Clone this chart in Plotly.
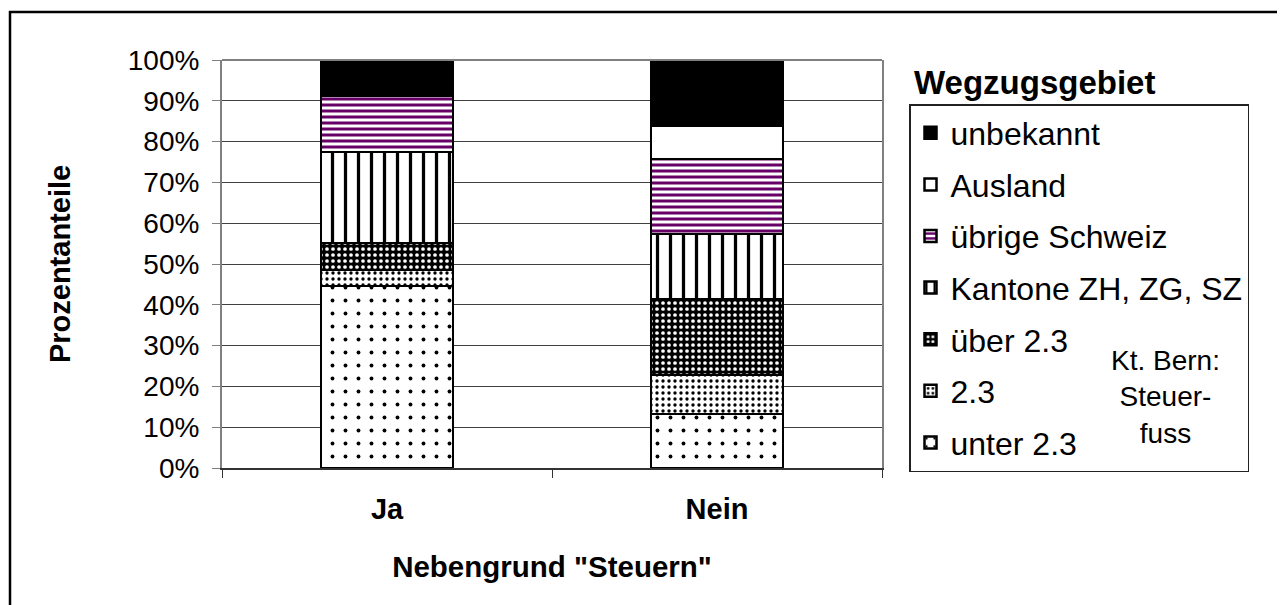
import plotly.graph_objects as go

# =====================================================
# Daten (Prozentanteile, von unten nach oben gestapelt)
# =====================================================

categories = ["Ja", "Nein"]

unter_23 = [44.6, 13.2]
steuerfuss_23 = [3.9, 9.6]
ueber_23 = [6.6, 18.5]
kantone_zh_zg_sz = [22.4, 16.1]
uebrige_schweiz = [13.7, 18.3]
ausland = [0.0, 8.1]
unbekannt = [8.8, 16.2]

series_names = [
    "unter 2.3",
    "2.3",
    "über 2.3",
    "Kantone ZH, ZG, SZ",
    "übrige Schweiz",
    "Ausland",
    "unbekannt",
]

y_ticks = [0, 10, 20, 30, 40, 50, 60, 70, 80, 90, 100]
y_tick_labels = [f"{v}%" for v in y_ticks]

# =====================================================
# Stil
# =====================================================

FONT = "Liberation Sans, Arial, sans-serif"
PURPLE = "#660066"

patterns = [
    dict(shape=".", fgcolor="black", bgcolor="white", size=13, solidity=0.07, fgopacity=1),
    dict(shape=".", fgcolor="black", bgcolor="white", size=6, solidity=0.25, fgopacity=1),
    dict(shape=".", fgcolor="white", bgcolor="black", size=6, solidity=0.3, fgopacity=1),
    dict(shape="|", fgcolor="black", bgcolor="white", size=13, solidity=0.25, fgopacity=1),
    dict(shape="-", fgcolor=PURPLE, bgcolor="white", size=6, solidity=0.5, fgopacity=1),
    dict(shape="", fgcolor="white", bgcolor="white"),
    dict(shape="", fgcolor="black", bgcolor="black"),
]
fill_colors = ["white", "white", "black", "white", "white", "white", "black"]

values = [
    unter_23,
    steuerfuss_23,
    ueber_23,
    kantone_zh_zg_sz,
    uebrige_schweiz,
    ausland,
    unbekannt,
]

fig = go.Figure()

n = len(series_names)
for i, (name, vals, pat, col) in enumerate(zip(series_names, values, patterns, fill_colors)):
    fig.add_trace(
        go.Bar(
            x=categories,
            y=vals,
            name=name,
            legendgroup=name,
            legendrank=n - i,
            marker=dict(
                color=col,
                pattern=pat,
                line=dict(color="black", width=2.5),
            ),
        )
    )

# Seite hat 8px Rand -> Referenzpixel um 8 verschieben
OFF = 8
W, H = 1285, 605
# Diagrammbereich in Referenzpixeln: x 222..882, y 60..468
L, R, T, B = 222 - OFF, W - (882 - OFF), 60 - OFF, H - (468 - OFF)
PW, PH = W - L - R, H - T - B


def px_x(x):
    return (x - OFF - L) / PW


def px_y(y):
    return (H - B - (y - OFF)) / PH


fig.update_layout(
    width=W,
    height=H,
    barmode="stack",
    bargap=0.6,
    plot_bgcolor="white",
    paper_bgcolor="white",
    font=dict(family=FONT, color="black", size=28),
    margin=dict(l=L, r=R, t=T, b=B),
    legend=dict(
        x=px_x(909),
        y=px_y(104),
        xanchor="left",
        yanchor="top",
        traceorder="grouped",
        tracegroupgap=7,
        font=dict(family=FONT, size=32, color="black"),
        bordercolor="#222222",
        borderwidth=1.5,
        bgcolor="white",
    ),
    xaxis=dict(
        showline=True,
        linecolor="#333333",
        linewidth=1.5,
        ticks="outside",
        tickson="boundaries",
        ticklen=8,
        tickcolor="#333333",
        ticklabelstandoff=14,
        tickfont=dict(family=FONT, size=29, weight="bold"),
        title=dict(
            text='Nebengrund "Steuern"',
            font=dict(family=FONT, size=29.5, weight="bold"),
            standoff=33,
        ),
    ),
    yaxis=dict(
        range=[0, 100],
        tickmode="array",
        tickvals=y_ticks,
        ticktext=y_tick_labels,
        showline=True,
        mirror=True,
        linecolor="#808080",
        linewidth=2,
        ticks="outside",
        ticklen=8,
        tickcolor="#808080",
        ticklabelstandoff=7,
        tickfont=dict(family=FONT, size=28),
        showgrid=True,
        gridcolor="#404040",
        gridwidth=1,
        zeroline=False,
        title=dict(
            text="Prozentanteile",
            font=dict(family=FONT, size=29, weight="bold"),
            standoff=49,
        ),
    ),
    shapes=[
        # graue Oberkante des Diagrammbereichs
        dict(type="line", xref="paper", yref="paper", x0=0, x1=1, y0=1, y1=1,
             line=dict(color="#808080", width=2)),
        # äusserer Rahmen
        dict(type="rect", xref="paper", yref="paper",
             x0=px_x(10), x1=px_x(1300), y0=px_y(620), y1=px_y(12),
             line=dict(color="black", width=2.5)),
    ],
    annotations=[
        dict(
            text="<b>Wegzugsgebiet</b>",
            xref="paper", yref="paper",
            x=px_x(912), y=px_y(82),
            xanchor="left", yanchor="middle",
            showarrow=False,
            font=dict(family=FONT, size=33, color="black"),
        ),
        dict(
            text="Kt. Bern:<br>Steuer-<br>fuss",
            xref="paper", yref="paper",
            x=px_x(1165), y=px_y(397),
            xanchor="center", yanchor="middle",
            align="center",
            showarrow=False,
            font=dict(family=FONT, size=28, color="black"),
        ),
    ],
)

fig.write_html("out.html")
